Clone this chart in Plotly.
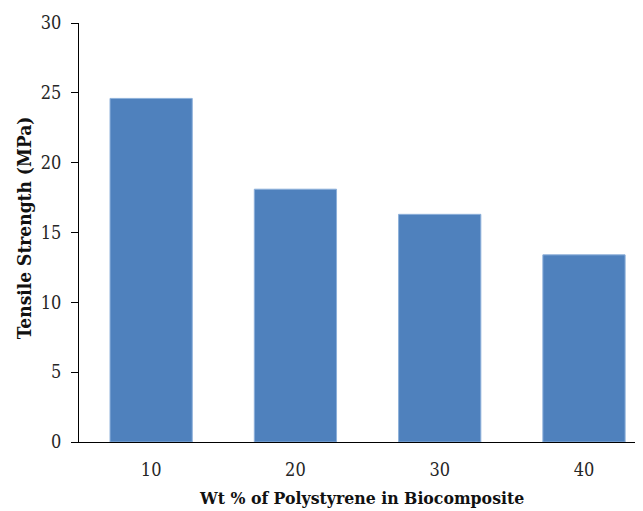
import plotly.graph_objects as go

categories = ["10", "20", "30", "40"]
tensile_strength = [24.6, 18.1, 16.3, 13.4]
y_ticks = [0, 5, 10, 15, 20, 25, 30]

# page body has an 8px margin, so work in page coords minus 8
OFF = 8
W, H = 643 - OFF, 511 - OFF
left, top, bottom_y = 79 - OFF, 23.3 - OFF, 442.3 - OFF
pw, ph = W - left, bottom_y - top

fig = go.Figure(go.Bar(
    x=categories, y=tensile_strength,
    marker=dict(color="#4F81BD", line=dict(color="#8DB0DA", width=1)),
    width=0.57,
))

serif = "DejaVu Serif Condensed, DejaVu Serif, serif"
fig.update_layout(
    width=W, height=H,
    margin=dict(l=left, r=0, t=top, b=H - bottom_y, pad=0),
    plot_bgcolor="white", paper_bgcolor="white",
    showlegend=False,
    font=dict(family=serif, size=18, color="#262626"),
    xaxis=dict(
        type="category", range=[-0.5, 3.409],
        showline=True, linecolor="black", linewidth=1.3,
        ticks="", showgrid=False, zeroline=False,
        tickfont=dict(family=serif, size=18, color="#262626"),
        ticklabelstandoff=11,
    ),
    yaxis=dict(
        range=[0, 30], tickvals=y_ticks,
        showline=True, linecolor="black", linewidth=1.3,
        ticks="outside", ticklen=7, tickwidth=1.3, tickcolor="black",
        showgrid=False, zeroline=False,
        tickfont=dict(family=serif, size=18, color="#262626"),
        ticklabelstandoff=6,
    ),
    annotations=[
        dict(text="<b>Wt % of Polystyrene in Biocomposite</b>",
             xref="paper", yref="paper",
             x=(361 - OFF - left) / pw, y=-(498.5 - OFF - bottom_y) / ph,
             xanchor="center", yanchor="middle", showarrow=False,
             font=dict(family=serif, size=17.5, color="#111111")),
        dict(text="<b>Tensile Strength (MPa)</b>",
             xref="paper", yref="paper",
             x=-(left - (24 - OFF)) / pw, y=(bottom_y - (228.5 - OFF)) / ph,
             xanchor="center", yanchor="middle", showarrow=False, textangle=-90,
             font=dict(family=serif, size=19, color="#111111")),
    ],
)

fig.write_html("out.html")
